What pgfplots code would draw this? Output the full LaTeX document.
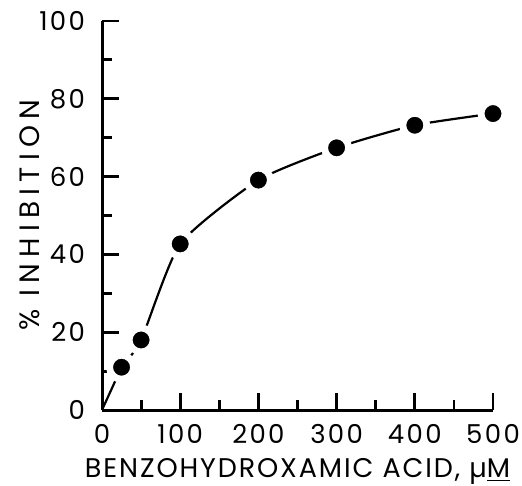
\documentclass[border=0pt]{standalone}
\usepackage{fontspec}
\setmainfont{Poppins}
\usepackage{pgfplots}
\pgfplotsset{compat=1.18}
\begin{document}
\begin{tikzpicture}
\begin{axis}[name=ax, scale only axis, width=195.5pt, height=194.5pt,
  xmin=0, xmax=500, ymin=0, ymax=100,
  axis lines=left, axis line style={line width=1.5pt, -},
  xtick={0,100,...,500}, minor xtick={50,150,...,450},
  ytick={0,20,...,100}, minor ytick={10,30,...,90},
  tick align=inside,
  major tick length=8.5pt, minor tick length=5pt,
  every tick/.style={black, line width=1.4pt},
  font=\fontsize{13.5}{16}\selectfont\addfontfeatures{LetterSpace=7},
  ticklabel style={font=\fontsize{13}{15}\selectfont\addfontfeatures{LetterSpace=9}},
  /pgf/number format/assume math mode=true,
  xticklabel style={inner sep=1pt, yshift=-6pt},
  yticklabel style={xshift=-5pt},
  clip=false,
  xlabel={BENZOHYDROXAMIC ACID, µ\underline{M}},
  ylabel={\% INHIBITION},
  xlabel style={at={(axis description cs:0.5,-0.158)}, anchor=center, inner sep=0pt},
  ylabel style={at={(axis description cs:-0.184,0.5)}, anchor=center, font=\fontsize{14}{16}\selectfont\addfontfeatures{LetterSpace=22}},
]
\addplot[black, line width=1.1pt, smooth, tension=0.35, mark=*, mark size=6pt,
  mark options={fill=black, draw=white, line width=3.4pt}]
  coordinates {(25,11)(50,18)(100,42.7)(200,59.1)(300,67.4)(400,73.2)(500,76.2)};
\addplot[black, line width=1.1pt] coordinates {(0,0)(25,11)};
\end{axis}
\pgfresetboundingbox
\path[use as bounding box] ([xshift=-51pt,yshift=-37.5pt]ax.south west) rectangle ([xshift=14.5pt,yshift=10.5pt]ax.north east);
\end{tikzpicture}
\end{document}
